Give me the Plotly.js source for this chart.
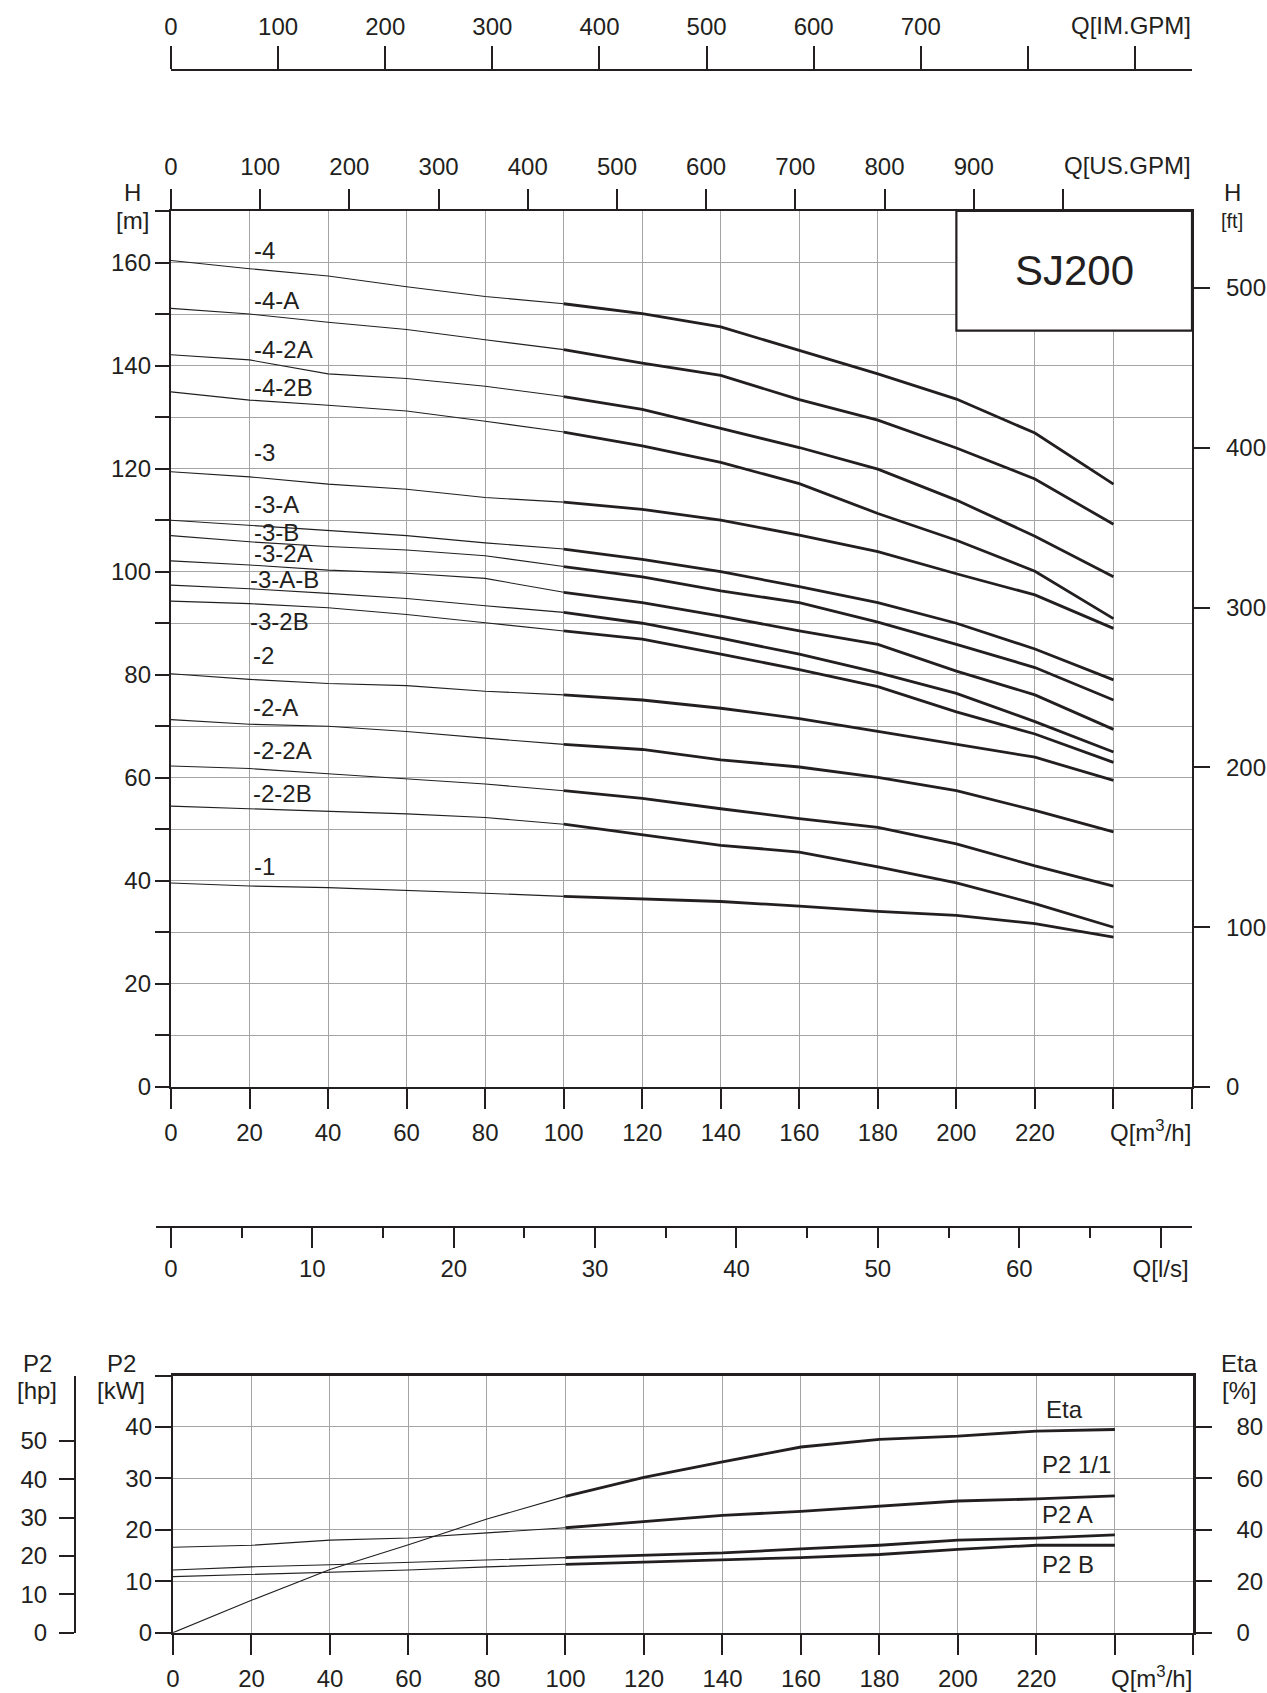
<!DOCTYPE html>
<html><head><meta charset="utf-8">
<script src="https://cdn.plot.ly/plotly-3.0.1.min.js"></script>
<style>html,body{margin:0;padding:0;background:#fff}#chart{width:1267px;height:1693px}</style>
</head><body><div id="chart"></div><script>
// ---------- DATA ----------
const Q = [0, 20, 40, 60, 80, 100, 120, 140, 160, 180, 200, 220, 240]; // m3/h

const H_4    = [160.4, 158.8, 157.4, 155.3, 153.4, 152.0, 150.1, 147.5, 143.0, 138.4, 133.5, 126.9, 117.0];
const H_4A   = [151.1, 150.0, 148.4, 147.0, 145.0, 143.1, 140.5, 138.1, 133.4, 129.4, 124.0, 118.0, 109.2];
const H_42A  = [142.1, 141.1, 138.4, 137.5, 136.0, 134.0, 131.5, 127.8, 124.1, 119.9, 113.9, 106.9, 99.0];
const H_42B  = [134.9, 133.3, 132.3, 131.2, 129.2, 127.1, 124.4, 121.2, 117.1, 111.3, 106.1, 100.1, 90.9];
const H_3    = [119.4, 118.4, 117.0, 116.0, 114.4, 113.5, 112.1, 110.0, 107.1, 103.9, 99.6, 95.5, 89.0];
const H_3A   = [110.0, 109.0, 108.1, 107.0, 105.6, 104.4, 102.4, 100.0, 97.1, 94.0, 90.0, 85.0, 79.0];
const H_3B   = [107.0, 105.8, 104.9, 104.2, 103.1, 101.0, 99.0, 96.3, 94.0, 90.2, 85.9, 81.4, 75.1];
const H_32A  = [102.1, 101.3, 100.3, 99.7, 98.7, 96.0, 94.0, 91.4, 88.5, 85.9, 80.7, 76.1, 69.4];
const H_3AB  = [97.4, 96.7, 95.8, 94.8, 93.4, 92.1, 90.0, 87.1, 84.0, 80.4, 76.4, 70.9, 65.0];
const H_32B  = [94.3, 93.8, 93.0, 91.7, 90.1, 88.5, 86.9, 84.0, 81.0, 77.7, 72.8, 68.5, 63.0];
const H_2    = [80.2, 79.1, 78.3, 77.9, 76.8, 76.1, 75.1, 73.5, 71.5, 69.0, 66.5, 64.0, 59.5];
const H_2A   = [71.3, 70.4, 70.0, 69.0, 67.7, 66.5, 65.5, 63.5, 62.1, 60.1, 57.5, 53.7, 49.5];
const H_22A  = [62.3, 61.8, 60.8, 59.8, 58.8, 57.5, 56.0, 54.0, 52.1, 50.4, 47.2, 42.9, 39.0];
const H_22B  = [54.5, 54.0, 53.5, 53.0, 52.3, 51.0, 49.0, 46.9, 45.6, 42.7, 39.6, 35.6, 31.0];
const H_1    = [39.6, 39.0, 38.7, 38.2, 37.6, 37.0, 36.5, 36.0, 35.1, 34.1, 33.3, 31.7, 29.1];

const curveNames  = ['-4', '-4-A', '-4-2A', '-4-2B', '-3', '-3-A', '-3-B', '-3-2A', '-3-A-B', '-3-2B', '-2', '-2-A', '-2-2A', '-2-2B', '-1'];
const curveLabelQ = [20.5, 20.5, 20.5, 20.5, 20.5, 20.5, 20.5, 20.5, 19.6, 19.7, 20.3, 20.3, 20.3, 20.3, 20.5];
const curveLabelH = [162.3, 152.7, 143.2, 135.7, 123.1, 113.1, 107.6, 103.5, 98.4, 90.3, 83.8, 73.7, 65.3, 57.0, 42.7];

const ETA     = [0, 12.6, 24.6, 34.2, 44.2, 53.0, 60.4, 66.4, 72.2, 75.2, 76.4, 78.4, 79.0];  // %
const P2_FULL = [16.6, 17.0, 18.0, 18.4, 19.4, 20.4, 21.6, 22.8, 23.6, 24.6, 25.6, 26.0, 26.6]; // kW
const P2_A    = [12.2, 12.8, 13.2, 13.7, 14.1, 14.6, 15.1, 15.5, 16.3, 17.0, 18.0, 18.4, 19.0];
const P2_B    = [10.9, 11.3, 11.8, 12.2, 12.8, 13.3, 13.7, 14.2, 14.6, 15.2, 16.2, 17.0, 17.0];
const powerLabels  = ['Eta', 'P2 1/1', 'P2 A', 'P2 B'];
const powerLabelQ  = [222, 221, 221, 221];
const powerLabelKW = [43.4, 32.7, 23.0, 13.2];

const qTicks     = [0, 20, 40, 60, 80, 100, 120, 140, 160, 180, 200, 220, 240, 260];
const qTickText  = ['0', '20', '40', '60', '80', '100', '120', '140', '160', '180', '200', '220', '', ''];
const hTicks     = [0, 10, 20, 30, 40, 50, 60, 70, 80, 90, 100, 110, 120, 130, 140, 150, 160, 170];
const hTickText  = ['0', '', '20', '', '40', '', '60', '', '80', '', '100', '', '120', '', '140', '', '160', ''];
const ftTicks    = [0, 100, 200, 300, 400, 500];
const usTicks    = [0, 100, 200, 300, 400, 500, 600, 700, 800, 900, 1000];
const usTickText = ['0', '100', '200', '300', '400', '500', '600', '700', '800', '900', ''];
const imTicks    = [0, 100, 200, 300, 400, 500, 600, 700, 800, 900];
const imTickText = ['0', '100', '200', '300', '400', '500', '600', '700', '', ''];
const lsTicks    = [0, 10, 20, 30, 40, 50, 60, 70];
const lsTickText = ['0', '10', '20', '30', '40', '50', '60', 'Q[l/s]'];
const kwTicks    = [0, 10, 20, 30, 40, 50];
const kwTickText = ['0', '10', '20', '30', '40', ''];
const etaTicks   = [0, 20, 40, 60, 80];
const hpTicks    = [0, 10, 20, 30, 40, 50];

// unit conversions
const M3H_PER_USGPM = 0.227125, M3H_PER_IMGPM = 0.272765, M3H_PER_LS = 3.6, KW_PER_HP = 0.7457, FT_PER_M = 3.225;

// ---------- LAYOUT ----------
const W = 1267, HT = 1693;
const FONT = 'Liberation Sans, Arial, sans-serif';
const ink = '#231f20', grid = '#a4a4a4';
const tf = {family: FONT, size: 24, color: ink};
const px = p => p / W, py = p => 1 - p / HT;

const traces = [];
const allH = [H_4, H_4A, H_42A, H_42B, H_3, H_3A, H_3B, H_32A, H_3AB, H_32B, H_2, H_2A, H_22A, H_22B, H_1];
function addCurve(y, xa, ya) {
  traces.push({type: 'scatter', mode: 'lines', x: Q.slice(0, 6), y: y.slice(0, 6), xaxis: xa, yaxis: ya,
    line: {color: ink, width: 1.1}, hoverinfo: 'skip'});
  traces.push({type: 'scatter', mode: 'lines', x: Q.slice(5), y: y.slice(5), xaxis: xa, yaxis: ya,
    line: {color: ink, width: 2.8}, hoverinfo: 'skip'});
}
allH.forEach(h => addCurve(h, 'x', 'y'));
addCurve(ETA, 'x5', 'y6');
addCurve(P2_FULL, 'x5', 'y5');
addCurve(P2_A, 'x5', 'y5');
addCurve(P2_B, 'x5', 'y5');
// empty traces so every auxiliary axis is drawn
[['x2', 'y'], ['x', 'y2'], ['x3', 'y3'], ['x4', 'y4'], ['x5', 'y7']].forEach(([a, b]) =>
  traces.push({type: 'scatter', mode: 'lines', x: [], y: [], xaxis: a, yaxis: b, hoverinfo: 'skip'}));

const base = {tickmode: 'array', ticks: 'outside', tickwidth: 2, tickcolor: ink, showline: true, linewidth: 2.2,
  linecolor: ink, zeroline: false, tickfont: tf, fixedrange: true};
const gridOn = {showgrid: true, gridcolor: grid, gridwidth: 1};
const gridOff = {showgrid: false};

const annotations = [];
curveNames.forEach((n, i) => annotations.push({xref: 'x', yref: 'y', x: curveLabelQ[i], y: curveLabelH[i],
  text: n, showarrow: false, xanchor: 'left', yanchor: 'middle', font: tf}));
powerLabels.forEach((n, i) => annotations.push({xref: 'x5', yref: 'y5', x: powerLabelQ[i], y: powerLabelKW[i],
  text: n, showarrow: false, xanchor: 'left', yanchor: 'middle', font: tf}));
annotations.push({xref: 'x', yref: 'y', x: 230.2, y: 158.5, text: 'SJ200', showarrow: false,
  xanchor: 'center', yanchor: 'middle', font: {family: FONT, size: 42, color: ink}});
function pa(x, y, text, anchor, size) {
  annotations.push({xref: 'paper', yref: 'paper', x: px(x), y: py(y), text, showarrow: false,
    xanchor: anchor, yanchor: 'middle', font: {family: FONT, size: size || 24, color: ink}});
}
pa(1193, 26, 'Q[IM.GPM]', 'right');
pa(1193, 165, 'Q[US.GPM]', 'right');
pa(1193, 1131, 'Q[m<sup>3</sup>/h]', 'right');
pa(1194, 1677, 'Q[m<sup>3</sup>/h]', 'right');
pa(132, 193, 'H', 'center');
pa(132, 220, '[m]', 'center');
pa(1232, 193, 'H', 'center');
pa(1232, 221, '[ft]', 'center', 20);
pa(37, 1363, 'P2', 'center');
pa(37, 1390, '[hp]', 'center');
pa(121, 1363, 'P2', 'center');
pa(121, 1390, '[kW]', 'center');
pa(1239, 1363, 'Eta', 'center');
pa(1239, 1390, '[%]', 'center');

const layout = {
  width: W, height: HT, margin: {l: 0, r: 0, t: 0, b: 0}, paper_bgcolor: '#fff', plot_bgcolor: 'rgba(0,0,0,0)',
  showlegend: false, font: {family: FONT, color: ink},
  xaxis: Object.assign({}, base, gridOn, {domain: [px(171), px(1192)], anchor: 'y', range: [0, 260],
    tickvals: qTicks, ticktext: qTickText, ticklen: 20, ticklabelstandoff: 3}),
  yaxis: Object.assign({}, base, gridOn, {domain: [py(1087), py(211)], anchor: 'x', range: [0, 170],
    tickvals: hTicks, ticktext: hTickText, ticklen: 14, ticklabelstandoff: -1}),
  xaxis2: Object.assign({}, base, gridOff, {overlaying: 'x', side: 'top', anchor: 'y',
    range: [0, 260 / M3H_PER_USGPM], tickvals: usTicks, ticktext: usTickText, ticklen: 20, ticklabelstandoff: 4}),
  yaxis2: Object.assign({}, base, gridOff, {overlaying: 'y', side: 'right', anchor: 'x',
    range: [0, 170 * FT_PER_M], tickvals: ftTicks, ticktext: ftTicks.map(String), ticklen: 16, ticklabelstandoff: 11}),
  xaxis3: Object.assign({}, base, gridOff, {domain: [px(171), px(1192)], anchor: 'y3', side: 'top',
    range: [0, 260 / M3H_PER_IMGPM], tickvals: imTicks, ticktext: imTickText, ticklen: 23, ticklabelstandoff: 1}),
  yaxis3: {domain: [py(72), py(71)], anchor: 'x3', visible: false, range: [0, 1], fixedrange: true},
  xaxis4: Object.assign({}, base, gridOff, {domain: [px(156), px(1192)], anchor: 'y4', side: 'bottom',
    range: [-15 / (1021 / (260 / M3H_PER_LS)), 260 / M3H_PER_LS], tickvals: lsTicks, ticktext: lsTickText,
    ticklen: 20, ticklabelstandoff: 0,
    minor: {tickmode: 'linear', tick0: 0, dtick: 5, ticks: 'outside', ticklen: 10, tickwidth: 2, tickcolor: ink, showgrid: false}}),
  yaxis4: {domain: [py(1226), py(1225)], anchor: 'x4', visible: false, range: [0, 1], fixedrange: true},
  xaxis5: Object.assign({}, base, gridOn, {domain: [px(173), px(1193.4)], anchor: 'y5', range: [0, 260],
    tickvals: qTicks, ticktext: qTickText, ticklen: 20, mirror: true, ticklabelstandoff: 3}),
  yaxis5: Object.assign({}, base, gridOn, {domain: [py(1632.7), py(1375.5)], anchor: 'x5', range: [0, 50],
    tickvals: kwTicks, ticktext: kwTickText, ticklen: 16, ticklabelstandoff: -2}),
  yaxis6: Object.assign({}, base, gridOff, {overlaying: 'y5', side: 'right', anchor: 'x5', range: [0, 100],
    tickvals: etaTicks, ticktext: etaTicks.map(String), ticklen: 16, ticklabelstandoff: 20}),
  yaxis7: Object.assign({}, base, gridOff, {overlaying: 'y5', side: 'left', anchor: 'free', position: px(75),
    range: [0, 50 / KW_PER_HP], tickvals: hpTicks, ticktext: hpTicks.map(String), ticklen: 15, ticklabelstandoff: 7}),
  shapes: [{type: 'rect', xref: 'x', yref: 'y', x0: 200, x1: 260, y0: 146.8, y1: 170,
    line: {color: ink, width: 2.2}, fillcolor: '#fff', layer: 'above'}],
  annotations
};

Plotly.newPlot('chart', traces, layout, {staticPlot: true, displayModeBar: false});
</script></body></html>
